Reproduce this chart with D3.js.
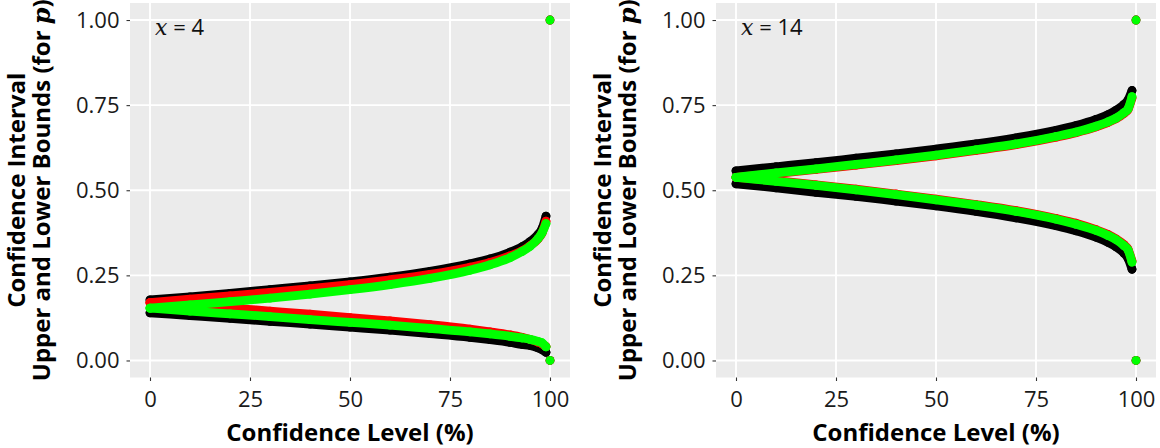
<!DOCTYPE html>
<html>
<head>
<meta charset="utf-8">
<script src="https://cdn.jsdelivr.net/npm/d3@7"></script>
<style>
  html, body { margin: 0; padding: 0; background: #ffffff; }
  svg { display: block; }
</style>
</head>
<body>
<svg id="chart" width="1160" height="448"></svg>
<script>
// ---------- data ----------
const confLevels = [0, 10, 20, 30, 40, 50, 60, 70, 80, 85, 90, 93, 95, 97, 98, 99];
const xTicks = [0, 25, 50, 75, 100];
const yTicks = [0, 0.25, 0.5, 0.75, 1];
const yTickLabels = ["0.00", "0.25", "0.50", "0.75", "1.00"];
const panelLabels = ["4", "14"];
const seriesColors = ["#000000", "#ff0000", "#00ff00"];

// panel x = 4
const p4BlackLo = [0.140, 0.132, 0.124, 0.115, 0.107, 0.098, 0.089, 0.079, 0.068, 0.061, 0.053, 0.047, 0.044, 0.037, 0.032, 0.024];
const p4BlackHi = [0.178, 0.187, 0.197, 0.208, 0.219, 0.231, 0.245, 0.262, 0.284, 0.298, 0.318, 0.334, 0.349, 0.370, 0.387, 0.424];
const p4RedLo   = [0.170, 0.162, 0.154, 0.145, 0.136, 0.126, 0.116, 0.105, 0.092, 0.084, 0.075, 0.068, 0.062, 0.054, 0.049, 0.041];
const p4RedHi   = [0.170, 0.180, 0.190, 0.200, 0.211, 0.223, 0.237, 0.253, 0.274, 0.288, 0.307, 0.322, 0.337, 0.357, 0.374, 0.409];
const p4GreenLo = [0.154, 0.145, 0.137, 0.129, 0.120, 0.112, 0.104, 0.094, 0.084, 0.078, 0.071, 0.066, 0.062, 0.056, 0.052, 0.040];
const p4GreenHi = [0.154, 0.163, 0.173, 0.183, 0.195, 0.208, 0.223, 0.241, 0.265, 0.281, 0.302, 0.320, 0.335, 0.358, 0.375, 0.402];

// panel x = 14
const p14BlackLo = [0.519, 0.507, 0.494, 0.482, 0.468, 0.454, 0.438, 0.419, 0.396, 0.381, 0.362, 0.347, 0.334, 0.315, 0.300, 0.268];
const p14BlackHi = [0.557, 0.569, 0.581, 0.594, 0.607, 0.621, 0.636, 0.654, 0.676, 0.690, 0.708, 0.722, 0.735, 0.752, 0.765, 0.793];
const p14RedLo   = [0.538, 0.528, 0.516, 0.503, 0.489, 0.474, 0.458, 0.440, 0.417, 0.403, 0.384, 0.370, 0.357, 0.340, 0.327, 0.292];
const p14RedHi   = [0.538, 0.549, 0.561, 0.574, 0.587, 0.601, 0.617, 0.634, 0.656, 0.669, 0.686, 0.699, 0.710, 0.726, 0.737, 0.771];
const p14GreenLo = [0.538, 0.526, 0.514, 0.501, 0.487, 0.472, 0.456, 0.438, 0.415, 0.400, 0.382, 0.367, 0.355, 0.337, 0.325, 0.289];
const p14GreenHi = [0.538, 0.551, 0.563, 0.576, 0.589, 0.603, 0.619, 0.636, 0.658, 0.671, 0.688, 0.701, 0.712, 0.728, 0.739, 0.775];

// the 100 % confidence level: [0, 1]
const endConf = 100;
const endBounds = [0, 1];

const panels = [
  { label: panelLabels[0], series: [[p4BlackLo, p4BlackHi], [p4RedLo, p4RedHi], [p4GreenLo, p4GreenHi]] },
  { label: panelLabels[1], series: [[p14BlackLo, p14BlackHi], [p14RedLo, p14RedHi], [p14GreenLo, p14GreenHi]] }
];

// ---------- layout ----------
const svg = d3.select("#chart");
const panelLeft = [130, 716];
const panelTop = 3;
const panelW = 440, panelH = 374.5;
const dotR = 4.4;
const font = "'Open Sans', 'Noto Sans', sans-serif";
const titleSize = "24px";

const x = d3.scaleLinear().domain([-5, 105]).range([0, panelW]);
const y = d3.scaleLinear().domain([-0.05, 1.05]).range([panelH, 0]);

panels.forEach((p, i) => {
  const g = svg.append("g").attr("transform", `translate(${panelLeft[i]},${panelTop})`);

  g.append("rect").attr("width", panelW).attr("height", panelH).attr("fill", "#ebebeb");

  g.selectAll(".vg").data(xTicks).join("line")
    .attr("x1", d => x(d)).attr("x2", d => x(d)).attr("y1", 0).attr("y2", panelH)
    .attr("stroke", "#ffffff").attr("stroke-width", 1.9);
  g.selectAll(".hg").data(yTicks).join("line")
    .attr("y1", d => y(d)).attr("y2", d => y(d)).attr("x1", 0).attr("x2", panelW)
    .attr("stroke", "#ffffff").attr("stroke-width", 1.9);

  // axes
  const xAxis = d3.axisBottom(x).tickValues(xTicks).tickSize(3.5).tickPadding(10).tickFormat(d3.format("d"));
  const yAxis = d3.axisLeft(y).tickValues(yTicks).tickSize(3.5).tickPadding(7).tickFormat((d, k) => yTickLabels[k]);
  const gx = g.append("g").attr("transform", `translate(0,${panelH})`).call(xAxis);
  const gy = g.append("g").call(yAxis);
  [gx, gy].forEach(a => {
    a.select(".domain").remove();
    a.selectAll(".tick line").attr("stroke", "#333333").attr("stroke-width", 1.1);
    a.selectAll(".tick text").attr("fill", "#1a1a1a").style("font-family", font).style("font-size", "22px");
  });
  gx.selectAll(".tick text").attr("dy", "0.71em");

  // series
  const line = d3.line().x((d, k) => x(confLevels[k])).y(d => y(d)).curve(d3.curveMonotoneX);
  p.series.forEach((pair, s) => {
    const col = seriesColors[s];
    const sg = g.append("g");
    pair.forEach(vals => {
      sg.append("path").attr("d", line(vals)).attr("fill", "none")
        .attr("stroke", col).attr("stroke-width", dotR * 2)
        .attr("stroke-linecap", "round").attr("stroke-linejoin", "round");
      sg.selectAll(null).data(vals).join("circle")
        .attr("cx", (d, k) => x(confLevels[k])).attr("cy", d => y(d)).attr("r", dotR).attr("fill", col);
    });
    sg.selectAll(null).data(endBounds).join("circle")
      .attr("cx", x(endConf)).attr("cy", d => y(d)).attr("r", dotR).attr("fill", col);
  });

  // panel annotation
  const t = g.append("text").attr("x", 25).attr("y", 32).attr("fill", "#111")
    .style("font-size", "22px");
  t.append("tspan").text("x").style("font-family", "'DejaVu Serif', 'Liberation Serif', serif").style("font-style", "italic").style("font-size", "22px");
  t.append("tspan").text(" = " + p.label).style("font-family", font);

  // x title
  svg.append("text").attr("x", panelLeft[i] + panelW / 2).attr("y", 441)
    .attr("text-anchor", "middle").style("font-family", font).style("font-weight", "700")
    .style("font-size", titleSize).attr("fill", "#000").text("Confidence Level (%)");

  // y title (two lines)
  const cy = panelTop + panelH / 2;
  const tx1 = panelLeft[i] - 105, tx2 = panelLeft[i] - 80;
  svg.append("text").attr("transform", `translate(${tx1},${cy}) rotate(-90)`)
    .attr("text-anchor", "middle").style("font-family", font).style("font-weight", "700")
    .style("font-size", titleSize).attr("fill", "#000").text("Confidence Interval");
  const t2 = svg.append("text").attr("transform", `translate(${tx2},${cy}) rotate(-90)`)
    .attr("text-anchor", "middle").style("font-family", font).style("font-weight", "700")
    .style("font-size", titleSize).attr("fill", "#000");
  t2.append("tspan").text("Upper and Lower Bounds (for ");
  t2.append("tspan").text("p").style("font-family", "'DejaVu Serif', 'Liberation Serif', serif").style("font-style", "italic");
  t2.append("tspan").text(")");
});
</script>
</body>
</html>
